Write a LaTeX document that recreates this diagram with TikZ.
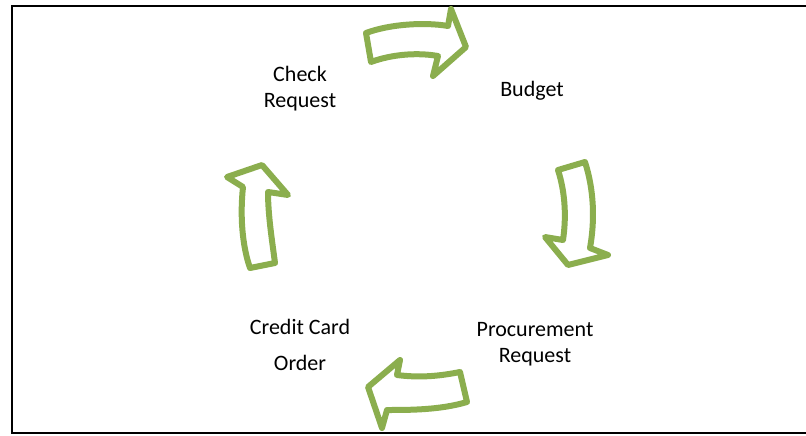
\documentclass[tikz,border=0pt]{standalone}
\usepackage{fontspec}
\setmainfont{Carlito}
\definecolor{leafgreen}{RGB}{139,174,78}
\begin{document}
\begin{tikzpicture}[x=1pt,y=-1pt,
  label/.style={font=\fontsize{22}{26}\selectfont, align=center, text=black},
  cyclearrow/.style={draw=leafgreen, line width=6pt, line join=round, fill=white}]
\useasboundingbox (0,0) rectangle (806,436);
\clip (0,0) rectangle (806,436);
% frame (right side runs off the page)
\draw[line width=2pt] (12,6) rectangle (820,433);

% stage labels
\node[label] (check) at (300,89) {Check\\Request};
\node[label] (budget) at (532,91) {Budget};
\node[label] (procure) at (535,344) {Procurement\\Request};
\node[label] (credit) at (300,345) {Credit Card\\[10pt]Order};

% hollow curved arrows between stages
\draw[cyclearrow] (366,33) .. controls (390,24) and (425,22) .. (448,26) -- (451,9) -- (466,47) -- (433,76) -- (438,56) .. controls (415,52) and (390,55) .. (371,62) -- cycle;
\draw[cyclearrow] (558,170) .. controls (566,195) and (566,220) .. (563,240) -- (545,237) -- (568,265) -- (608,255) -- (590,248) .. controls (595,220) and (594,190) .. (585,162) -- cycle;
\draw[cyclearrow] (368,387) -- (400,360) -- (397,375) .. controls (420,378) and (440,376) .. (460,372) -- (467,402) .. controls (440,410) and (410,410) .. (387,410) -- (382,428) -- cycle;
\draw[cyclearrow] (262,165) -- (288,195) -- (268,192) .. controls (268,215) and (272,240) .. (275,263) -- (250,268) .. controls (242,245) and (240,215) .. (243,187) -- (227,177) -- cycle;
\end{tikzpicture}
\end{document}
